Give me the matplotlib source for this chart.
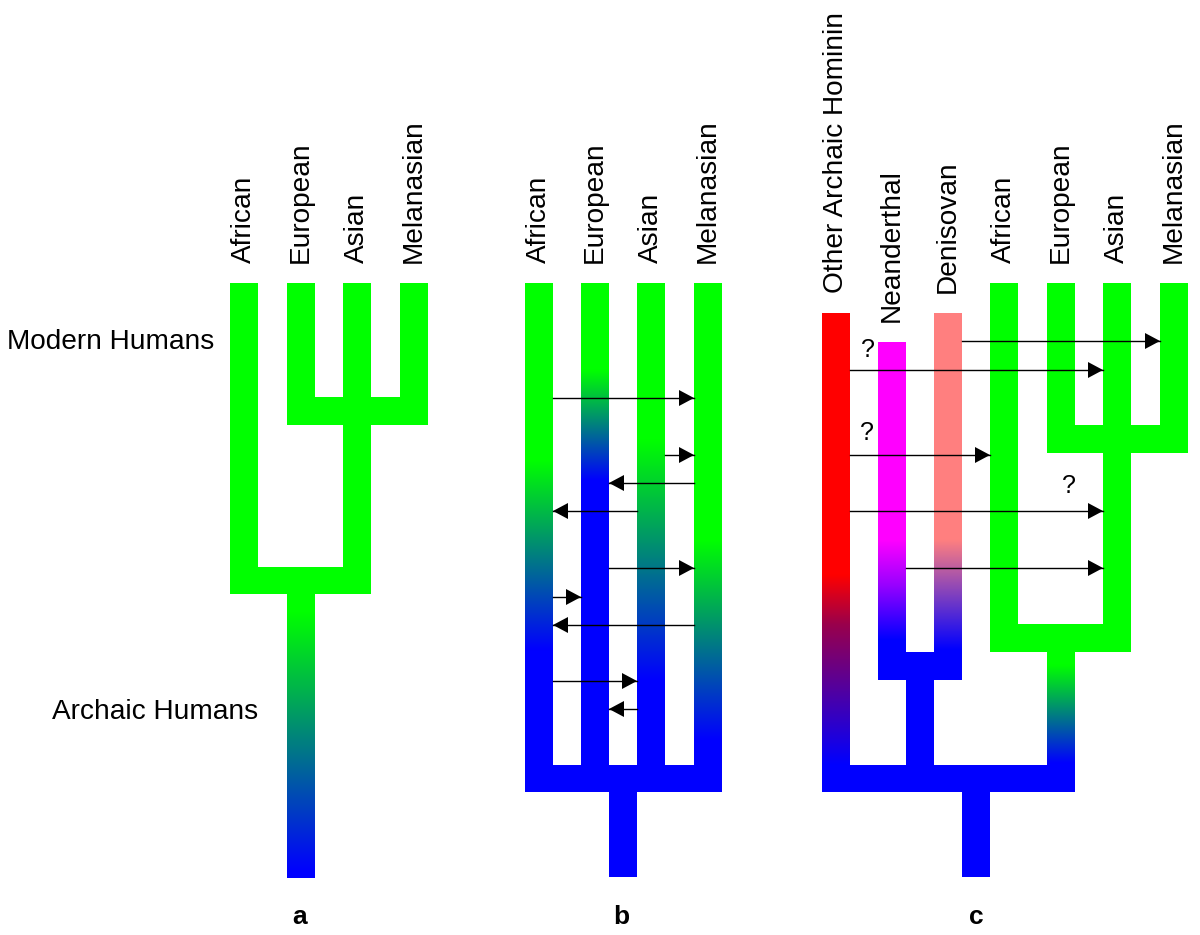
import numpy as np
import matplotlib
matplotlib.use('Agg')
import matplotlib.pyplot as plt
from matplotlib.patches import Rectangle

plt.rcParams['font.family'] = ['Liberation Sans', 'DejaVu Sans']

# colours
GREEN = (0, 1, 0)
BLUE = (0, 0, 1)
RED = (1, 0, 0)
MAGENTA = (1, 0, 1)
PINK = (1, 0.5, 0.5)

W = 28  # branch width

# panel a: column lefts and labels
a_labels = ['African', 'European', 'Asian', 'Melanasian']
a_left = [230, 287, 343, 400]
# panel b
b_labels = ['African', 'European', 'Asian', 'Melanasian']
b_left = [525, 581, 637, 694]
# gradient (green until y0, blue from y1) for each b column
b_fade = [(460, 650), (370, 480), (440, 680), (540, 740)]
# panel b gene flow arrows: (from column, to column, y)
b_arrows = [(0, 3, 398), (2, 3, 455), (3, 1, 483), (2, 0, 511), (1, 3, 568),
            (0, 1, 597), (3, 0, 625), (0, 2, 681), (2, 1, 709)]

# panel c
c_labels = ['Other Archaic Hominin', 'Neanderthal', 'Denisovan',
            'African', 'European', 'Asian', 'Melanasian']
c_left = [822, 878, 934, 990, 1047, 1103, 1160]
c_top = [313, 342, 313, 283, 283, 283, 283]
# panel c arrows: (from column, to column, y)
c_arrows = [(2, 6, 341), (0, 5, 370), (0, 3, 455), (0, 5, 511), (1, 5, 568)]
c_question = [(868, 350), (867, 433), (1069, 486)]

TOP = 283
panel_letters = [('a', 300), ('b', 621), ('c', 976)]

fig = plt.figure(figsize=(12, 9.35), dpi=100)
ax = fig.add_axes([0, 0, 1, 1])
ax.set_xlim(0, 1200)
ax.set_ylim(935, 0)
ax.axis('off')


def rect(x0, x1, y0, y1, color):
    ax.add_patch(Rectangle((x0, y0), x1 - x0, y1 - y0, facecolor=color,
                           edgecolor='none', lw=0, zorder=1))


def grad(x0, x1, y0, y1, stops):
    ys = np.linspace(y0, y1, 400)
    sy = [s[0] for s in stops]
    img = np.zeros((len(ys), 1, 3))
    for ch in range(3):
        img[:, 0, ch] = np.interp(ys, sy, [s[1][ch] for s in stops])
    ax.imshow(img, extent=(x0, x1, y1, y0), origin='upper', aspect='auto',
              interpolation='bilinear', zorder=1)


def arrow(x_from, x_to, y):
    ax.plot([x_from, x_to], [y, y], color='black', lw=1, zorder=3)
    d = 1 if x_to > x_from else -1
    hl, hw = 15, 8
    ax.fill([x_to, x_to - d * hl, x_to - d * hl], [y, y - hw, y + hw],
            color='black', lw=0, zorder=3)


def label(x, y, s):
    ax.text(x, y, s, rotation=90, ha='center', va='bottom', fontsize=20.2)


# ---------------- panel a
l = a_left
rect(l[0], l[0] + W, TOP, 594, GREEN)
rect(l[1], l[1] + W, TOP, 425, GREEN)
rect(l[2], l[2] + W, TOP, 594, GREEN)
rect(l[3], l[3] + W, TOP, 425, GREEN)
rect(l[1], l[3] + W, 397, 425, GREEN)
rect(l[0], l[2] + W, 567, 594, GREEN)
grad(l[1], l[1] + W, 593, 878, [(593, GREEN), (612, GREEN), (872, BLUE)])
for x, s in zip(l, a_labels):
    label(x + W / 2, TOP - 20, s)

# ---------------- panel b
l = b_left
for x, (f0, f1) in zip(l, b_fade):
    grad(x, x + W, TOP, 766, [(TOP, GREEN), (f0, GREEN), (f1, BLUE), (766, BLUE)])
rect(l[0], l[3] + W, 765, 792, BLUE)
rect(l[1] + W, l[2], 791, 877, BLUE)
for i, j, y in b_arrows:
    xa = l[i] + W if j > i else l[i]
    xb = l[j] if j > i else l[j] + W
    arrow(xa, xb, y)
for x, s in zip(l, b_labels):
    label(x + W / 2, TOP - 20, s)

# ---------------- panel c
l = c_left
grad(l[0], l[0] + W, c_top[0], 766,
     [(c_top[0], RED), (575, RED), (625, (0.6, 0, 0.3)), (765, BLUE)])
grad(l[1], l[1] + W, c_top[1], 653,
     [(c_top[1], MAGENTA), (540, MAGENTA), (585, (0.6, 0, 1)), (640, BLUE)])
grad(l[2], l[2] + W, c_top[2], 653,
     [(c_top[2], PINK), (540, PINK), (650, BLUE)])
rect(l[1], l[2] + W, 652, 680, BLUE)
rect(l[1] + W, l[2], 679, 766, BLUE)
rect(l[3], l[3] + W, TOP, 652, GREEN)
rect(l[4], l[4] + W, TOP, 453, GREEN)
rect(l[5], l[5] + W, TOP, 652, GREEN)
rect(l[6], l[6] + W, TOP, 453, GREEN)
rect(l[4], l[6] + W, 425, 453, GREEN)
rect(l[3], l[5] + W, 624, 652, GREEN)
grad(l[4], l[4] + W, 651, 766, [(651, GREEN), (665, GREEN), (763, BLUE)])
rect(l[0], l[4] + W, 765, 792, BLUE)
rect(l[2] + W, l[3], 791, 877, BLUE)
for i, j, y in c_arrows:
    arrow(l[i] + W, l[j], y)
for x, y in c_question:
    ax.text(x, y, '?', ha='center', va='center', fontsize=18)
for x, t, s in zip(l, c_top, c_labels):
    label(x + W / 2, t - 20, s)

# side labels and panel letters
ax.text(7, 342, 'Modern Humans', ha='left', va='center', fontsize=20.2)
ax.text(258, 712, 'Archaic Humans', ha='right', va='center', fontsize=20.2)
for s, x in panel_letters:
    ax.text(x, 917, s, ha='center', va='center', fontsize=19, fontweight='bold')

fig.savefig('out.png', dpi=100)
